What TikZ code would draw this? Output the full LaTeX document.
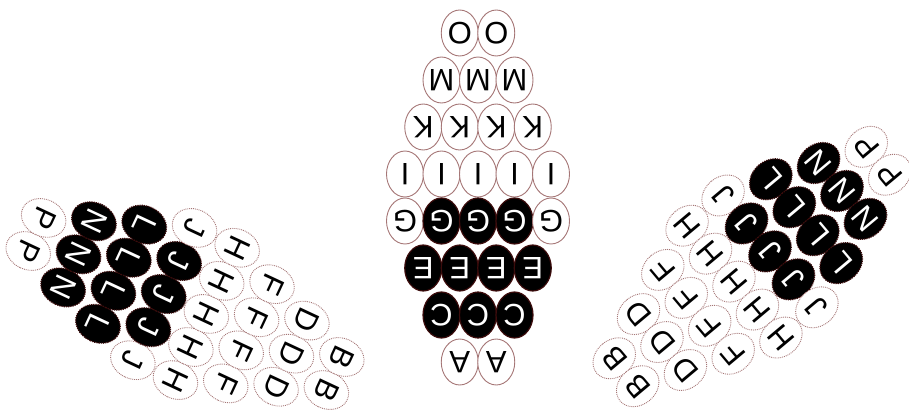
\documentclass[tikz,border=0pt]{standalone}
\usepackage{fontspec}
\setmainfont{Liberation Sans}
\usetikzlibrary{shapes.geometric}
\definecolor{beadline}{RGB}{165,118,118}
\definecolor{beadedge}{RGB}{60,12,12}

% one row of beads: #1 name, #2 row, #3 count, #4 letter, #5 kind (0 white, 1 dark, 2 dark inside)
\newcommand{\beadrow}[5]{%
  \foreach \i in {1,...,#3}{
    \pgfmathsetmacro{\bx}{(\i-(#3+1)/2)*36.5}
    \pgfmathsetmacro{\by}{(#2-3.5)*47}
    \pgfmathtruncatemacro{\isdark}{(#5==1) || ((#5==2) && (\i>1) && (\i<#3))}
    \ifnum\isdark=1
      \node[darkbead] (#1-#2-\i) at (\bx,\by) {#4};
    \else
      \node[bead] (#1-#2-\i) at (\bx,\by) {#4};
    \fi
  }}

\begin{document}
\begin{tikzpicture}[x=1pt, y=-1pt,
  bead/.style={ellipse, draw=beadline, line width=0.9pt, fill=white, minimum width=37pt, minimum height=46pt, inner sep=0pt, font=\fontsize{31}{31}\selectfont, rotate=180},
  darkbead/.style={bead, fill=black, draw=beadedge, line width=1.2pt, text=white},
  sidebead/.style={every node/.append style={densely dotted}},
]
\useasboundingbox (0,0) rectangle (909,413);

% middle piece
\begin{scope}[shift={(478,197.5)}, transform shape]
  \beadrow{mid}{0}{2}{O}{0}
  \beadrow{mid}{1}{3}{M}{0}
  \beadrow{mid}{2}{4}{K}{0}
  \beadrow{mid}{3}{5}{I}{0}
  \beadrow{mid}{4}{5}{G}{2}
  \beadrow{mid}{5}{4}{E}{1}
  \beadrow{mid}{6}{3}{C}{1}
  \beadrow{mid}{7}{2}{A}{0}
\end{scope}

% left piece
\begin{scope}[shift={(185,304)}, rotate=65, transform shape, sidebead]
  \beadrow{lft}{0}{2}{P}{0}
  \beadrow{lft}{1}{3}{N}{1}
  \beadrow{lft}{2}{4}{L}{1}
  \beadrow{lft}{3}{5}{J}{2}
  \beadrow{lft}{4}{5}{H}{0}
  \beadrow{lft}{5}{4}{F}{0}
  \beadrow{lft}{6}{3}{D}{0}
  \beadrow{lft}{7}{2}{B}{0}
\end{scope}

% right piece
\begin{scope}[shift={(752,266.5)}, rotate=-50, transform shape, sidebead]
  \beadrow{rgt}{0}{2}{P}{0}
  \beadrow{rgt}{1}{3}{N}{1}
  \beadrow{rgt}{2}{4}{L}{1}
  \beadrow{rgt}{3}{5}{J}{2}
  \beadrow{rgt}{4}{5}{H}{0}
  \beadrow{rgt}{5}{4}{F}{0}
  \beadrow{rgt}{6}{3}{D}{0}
  \beadrow{rgt}{7}{2}{B}{0}
\end{scope}

\end{tikzpicture}
\end{document}
